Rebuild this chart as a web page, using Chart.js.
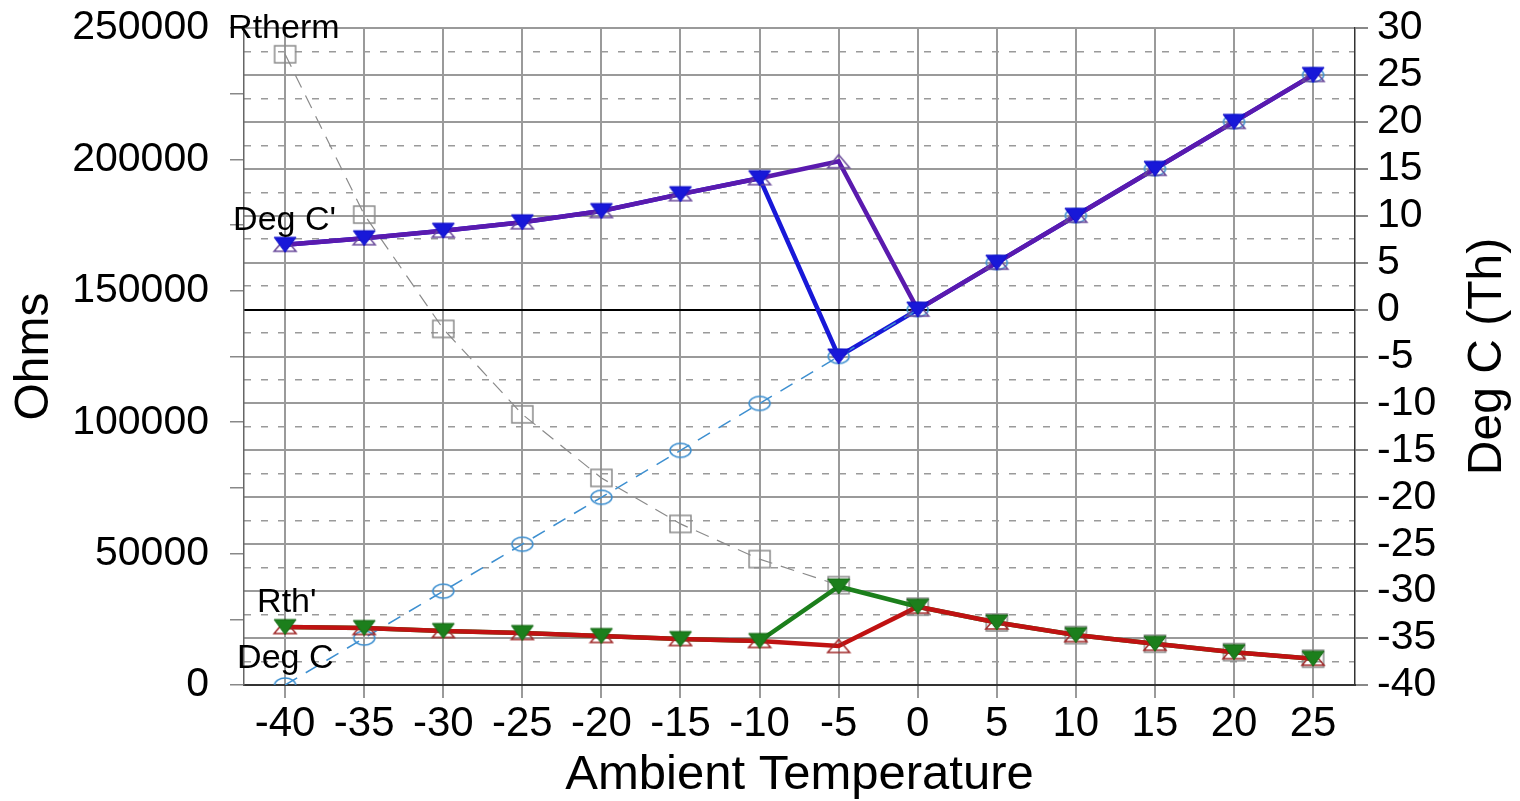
<!DOCTYPE html>
<html><head><meta charset="utf-8">
<script src="https://cdn.jsdelivr.net/npm/chart.js@4/dist/chart.umd.min.js"></script>
<style>html,body{margin:0;padding:0;background:#fff;} #wrap{width:1520px;height:801px;}</style>
</head><body><div id="wrap"><canvas id="c" width="1520" height="801"></canvas></div>
<script>
// ---- data ----
const temps = [-40,-35,-30,-25,-20,-15,-10,-5,0,5,10,15,20,25];
const rtherm = [240000,179000,135500,103000,78800,61300,47900,38000,29800,23800,19000,15700,12500,10000];
const degC = [-40,-35,-30,-25,-20,-15,-10,-5,0,5,10,15,20,25];
const degCPrimeA = [6.9,7.6,8.4,9.3,10.5,12.3,14.0,-5,0,5,10,15,20,25];      // blue
const degCPrimeB = [6.9,7.6,8.4,9.3,10.5,12.3,14.0,15.8,0,5,10,15,20,25];    // purple
const rthPrimeA = [22070,21700,20550,19800,18650,17500,16750,37500,29800,23800,19000,15700,12500,10000]; // green
const rthPrimeB = [22070,21700,20550,19800,18650,17500,16750,14850,29800,23800,19000,15700,12500,10000]; // red
const xTicks = [-40,-35,-30,-25,-20,-15,-10,-5,0,5,10,15,20,25];
const ohmTicks = [0,25000,50000,75000,100000,125000,150000,175000,200000,225000,250000];
const ohmLabelStep = 50000;
const degTicks = [-40,-37.5,-35,-32.5,-30,-27.5,-25,-22.5,-20,-17.5,-15,-12.5,-10,-7.5,-5,-2.5,0,2.5,5,7.5,10,12.5,15,17.5,20,22.5,25,27.5,30];
const degLabelStep = 5;

const FAM = '"Liberation Sans", Arial, Helvetica, sans-serif';
Chart.defaults.font.family = FAM;
Chart.defaults.color = '#000';

function marker(kind, w, h, stroke, fill, lw) {
  const pad = 2;
  const c = document.createElement('canvas');
  c.width = w + pad * 2; c.height = h + pad * 2;
  const g = c.getContext('2d');
  g.translate(pad, pad);
  g.lineWidth = lw; g.strokeStyle = stroke || 'transparent'; g.fillStyle = fill || 'transparent';
  g.beginPath();
  if (kind === 'down') { g.moveTo(0, 0); g.lineTo(w, 0); g.lineTo(w / 2, h); g.closePath(); }
  else if (kind === 'up') { g.moveTo(w / 2, 0); g.lineTo(w, h); g.lineTo(0, h); g.closePath(); }
  else if (kind === 'square') { g.rect(0, 0, w, h); }
  else { g.ellipse(w / 2, h / 2, w / 2, h / 2, 0, 0, Math.PI * 2); }
  if (fill) g.fill();
  if (stroke) g.stroke();
  return c;
}
const mDownBlue = marker('down', 22, 15, '#1010c8', '#1818d8', 1);
const mDownGreen = marker('down', 22, 15, '#146814', '#1c7f1c', 1);
const mUpPurple = marker('up', 22, 13, '#6a4a9a', null, 1.5);
const mUpRed = marker('up', 22, 13, '#a02828', null, 1.5);
const mSquare = marker('square', 21, 17, '#8a8a8a', null, 1.5);
const mEllipse = marker('ellipse', 21, 14, '#3d8fd0', null, 1.5);

const pts = ys => temps.map((t, i) => ({x: t, y: ys[i]}));
const isMajor = v => Math.abs(v / degLabelStep - Math.round(v / degLabelStep)) < 1e-6;

const seriesLabels = [
  {text: 'Rtherm', values: rtherm, axis: 'y', dx: -57, dy: -16},
  {text: "Deg C'", values: degCPrimeB, axis: 'y1', dx: -52, dy: -15},
  {text: "Rth'", values: rthPrimeB, axis: 'y', dx: -28, dy: -15},
  {text: 'Deg C', values: degC, axis: 'y1', dx: -48, dy: -17}
];

const textPlugin = {
  id: 'texts',
  afterDatasetsDraw(chart) {
    const {ctx, scales} = chart;
    ctx.save();
    ctx.fillStyle = '#000';
    ctx.font = '34px ' + FAM;
    ctx.textAlign = 'left';
    ctx.textBaseline = 'alphabetic';
    seriesLabels.forEach(l => {
      const px = scales.x.getPixelForValue(temps[0]);
      const py = scales[l.axis].getPixelForValue(l.values[0]);
      ctx.fillText(l.text, px + l.dx, py + l.dy);
    });
    ctx.restore();
  },
  afterDraw(chart) {
    const {ctx, chartArea, scales} = chart;
    ctx.save();
    ctx.fillStyle = '#000';
    ctx.font = '48px ' + FAM;
    ctx.textAlign = 'center';
    ctx.textBaseline = 'middle';
    ctx.translate(scales.y1.right - 32, (chartArea.top + chartArea.bottom) / 2);
    ctx.rotate(-Math.PI / 2);
    ctx.fillText('Deg C (Th)', 0, 0);
    ctx.restore();
  }
};

const fitV = w => s => { s.width = w; s.paddingTop = 0; s.paddingBottom = 0; };

new Chart(document.getElementById('c'), {
  type: 'line',
  data: {
    datasets: [
      {label: "Deg C' markers", data: pts(degCPrimeA), yAxisID: 'y1', showLine: false, pointStyle: mDownBlue, pointRadius: 10},
      {label: "Rth' markers", data: pts(rthPrimeA), yAxisID: 'y', showLine: false, pointStyle: mDownGreen, pointRadius: 10},
      {label: "Deg C' (B)", data: pts(degCPrimeB), yAxisID: 'y1', borderColor: '#5a1aae', borderWidth: 4.5, pointStyle: mUpPurple, pointRadius: 10},
      {label: "Rth' (B)", data: pts(rthPrimeB), yAxisID: 'y', borderColor: '#c01212', borderWidth: 4.5, pointStyle: mUpRed, pointRadius: 10},
      {label: 'Deg C', data: pts(degC), yAxisID: 'y1', borderColor: '#3d8fd0', borderWidth: 1.5, borderDash: [14, 10], pointStyle: mEllipse, pointRadius: 10},
      {label: "Deg C' (A)", data: pts(degCPrimeA), yAxisID: 'y1', borderColor: '#1818d8', borderWidth: 4.5, pointRadius: 0},
      {label: "Rth' (A)", data: pts(rthPrimeA), yAxisID: 'y', borderColor: '#1c7f1c', borderWidth: 4.5, pointRadius: 0},
      {label: 'Rtherm', data: pts(rtherm), yAxisID: 'y', borderColor: '#8a8a8a', borderWidth: 1.2, borderDash: [14, 9], pointStyle: mSquare, pointRadius: 10}
    ]
  },
  options: {
    responsive: false,
    animation: false,
    devicePixelRatio: 1,
    elements: {line: {tension: 0, fill: false}},
    layout: {padding: {top: 28, left: 0, right: 0, bottom: 0}},
    plugins: {legend: {display: false}, tooltip: {enabled: false}},
    scales: {
      x: {
        type: 'linear', min: -42.6, max: 27.65,
        afterBuildTicks: s => { s.ticks = xTicks.map(v => ({value: v})); },
        afterFit: s => { s.height = 116; s.paddingLeft = 0; s.paddingRight = 0; },
        grid: {color: '#9a9a9a', lineWidth: 2, tickLength: 13, tickColor: '#9a9a9a'},
        border: {display: true, color: '#333', width: 2},
        ticks: {font: {size: 42}, color: '#000', padding: 1, maxRotation: 0, autoSkip: false, callback: v => String(v)},
        title: {display: true, text: 'Ambient Temperature', font: {size: 49, lineHeight: 1}, color: '#000', padding: {top: 0, bottom: 1}}
      },
      y: {
        type: 'linear', position: 'left', min: 0, max: 250000,
        afterBuildTicks: s => { s.ticks = ohmTicks.map(v => ({value: v})); },
        afterFit: fitV(244),
        grid: {drawOnChartArea: false, tickLength: 14, tickColor: '#888', lineWidth: 1.5},
        border: {display: true, color: '#666', width: 1.5},
        ticks: {font: {size: 41}, color: '#000', padding: 21, autoSkip: false, callback: v => (v % ohmLabelStep === 0 ? String(v) : '')},
        title: {display: true, text: 'Ohms', font: {size: 48, lineHeight: 1.2}, color: '#000', padding: {top: 6, bottom: 0}}
      },
      y1: {
        type: 'linear', position: 'right', min: -40, max: 30,
        afterBuildTicks: s => { s.ticks = degTicks.map(v => ({value: v})); },
        afterFit: fitV(165),
        grid: {
          drawOnChartArea: true,
          color: ctx => (ctx.tick && ctx.tick.value === 0) ? '#000' : '#9a9a9a',
          lineWidth: ctx => (ctx.tick && isMajor(ctx.tick.value)) ? 2 : 1.5,
          tickLength: 13,
          tickColor: ctx => (ctx.tick && isMajor(ctx.tick.value)) ? '#888' : 'rgba(0,0,0,0)'
        },
        border: {display: true, color: '#333', width: 1.5, dash: ctx => (ctx.tick && !isMajor(ctx.tick.value)) ? [7, 10] : []},
        ticks: {font: {size: 41}, color: '#000', padding: 9, autoSkip: false, callback: v => (isMajor(v) ? String(v) : '')},
        title: {display: false}
      }
    }
  },
  plugins: [textPlugin]
});
</script>
</body></html>
